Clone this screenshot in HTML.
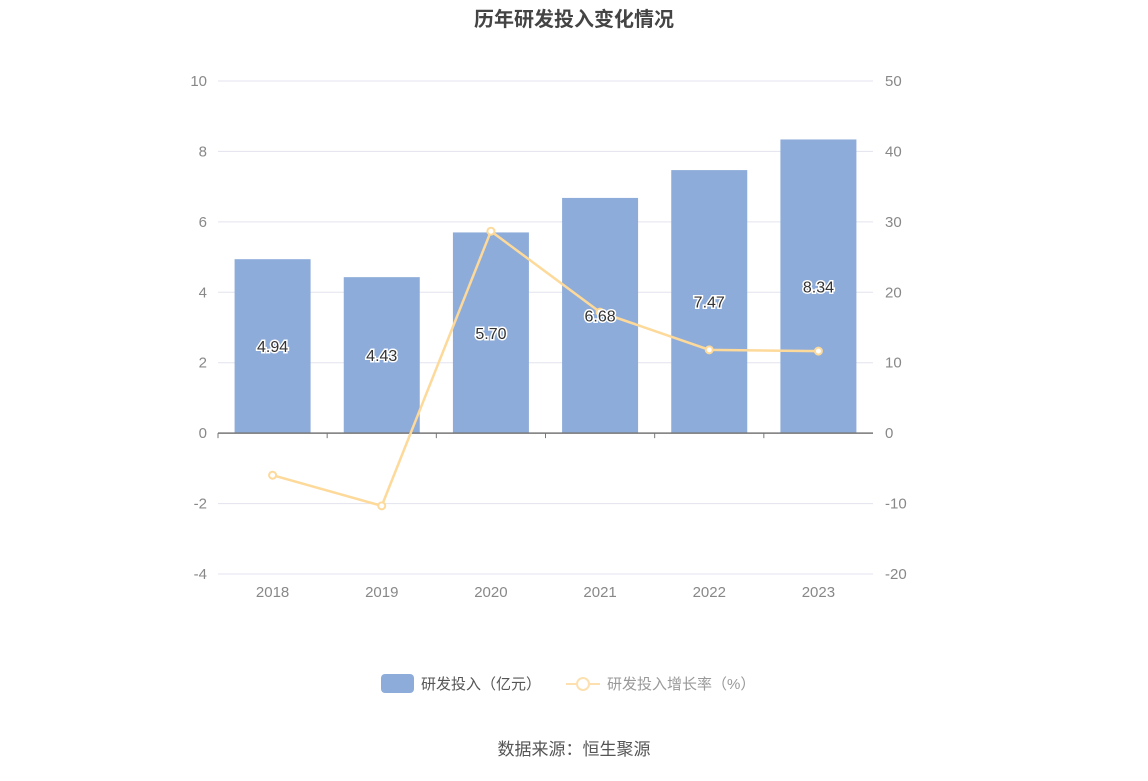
<!DOCTYPE html>
<html><head><meta charset="utf-8"><style>
body{margin:0;background:#fff;width:1148px;height:776px;overflow:hidden;font-family:"Liberation Sans","Noto Sans CJK SC",sans-serif}
</style></head><body>
<svg id="c" width="1148" height="776" xmlns="http://www.w3.org/2000/svg">
<text x="574" y="26" text-anchor="middle" font-size="20" font-weight="bold" fill="#444">历年研发投入变化情况</text>
<g id="grid"></g><g id="bars"></g><g id="axes"></g><g id="line"></g><g id="labels"></g>
<g>
<rect x="381" y="674" width="33" height="19" rx="4" fill="#8eacd9"/>
<text x="421" y="689" font-size="15" fill="#555">研发投入（亿元）</text>
<line x1="566" y1="684" x2="600" y2="684" stroke="#fde0b0" stroke-width="2"/>
<circle cx="583" cy="684" r="6" fill="#fff" stroke="#fde0b0" stroke-width="2"/>
<text x="607" y="689" font-size="15" fill="#999">研发投入增长率（%）</text>
</g>
<text x="574" y="755" text-anchor="middle" font-size="17" fill="#555">数据来源：恒生聚源</text>
</svg>
<script>
const categories=["2018","2019","2020","2021","2022","2023"];
const rdValues=[4.94,4.43,5.70,6.68,7.47,8.34];
const growthValues=[-5.97,-10.32,28.67,17.19,11.83,11.65];
const leftTicks=[-4,-2,0,2,4,6,8,10];
const rightTicks=[-20,-10,0,10,20,30,40,50];
const NS="http://www.w3.org/2000/svg";
const x0=218,x1=873,yTop=81,yBot=574;
const yL=v=>yTop+(10-v)/14*(yBot-yTop);
const yR=v=>yTop+(50-v)/70*(yBot-yTop);
const bw=(x1-x0)/categories.length;
const xC=i=>x0+bw*(i+0.5);
function mk(t,a,p){const e=document.createElementNS(NS,t);for(const k in a)e.setAttribute(k,a[k]);p.appendChild(e);return e;}
const G=document.getElementById('grid'),B=document.getElementById('bars'),A=document.getElementById('axes'),L=document.getElementById('line'),T=document.getElementById('labels');
leftTicks.forEach((v,i)=>{
 const y=yL(v);
 if(v!==0){const g=mk('line',{x1:x0,x2:x1,y1:y,y2:y,stroke:'#e3e3ef','stroke-width':1},G);
 
 }
 const t=mk('text',{x:207,y:y+5,'text-anchor':'end','font-size':15,fill:'#888'},A);t.textContent=v;
 
 
});
rightTicks.forEach(v=>{
 const t=mk('text',{x:885,y:yR(v)+5,'font-size':15,fill:'#888'},A);t.textContent=v;
 
 
});
const ax=mk('line',{x1:x0,x2:x1,y1:yL(0),y2:yL(0),stroke:'#777','stroke-width':1.5},A);


categories.forEach((c,i)=>{
 const cx=xC(i);
 const tk=mk('line',{x1:x0+bw*i,x2:x0+bw*i,y1:yL(0),y2:yL(0)+5,stroke:'#777'},A);
 
 
 const t=mk('text',{x:cx,y:597,'text-anchor':'middle','font-size':15,fill:'#888'},A);t.textContent=c;
 
 
 const v=rdValues[i];
 const r=mk('rect',{x:cx-38,y:yL(v),width:76,height:yL(0)-yL(v),fill:'#8eacd9'},B);
 
 
 const lb=mk('text',{x:cx,y:(yL(v)+yL(0))/2+6,'text-anchor':'middle','font-size':16,fill:'#333',stroke:'#fff','stroke-width':3,'paint-order':'stroke'},T);lb.textContent=v.toFixed(2);
 
 
});
const pts=growthValues.map((v,i)=>xC(i)+','+yR(v)).join(' ');
const pl=mk('polyline',{points:pts,fill:'none',stroke:'#fdd99a','stroke-width':2.5},L);


growthValues.forEach((v,i)=>{
 const c=mk('circle',{cx:xC(i),cy:yR(v),r:3.5,fill:'#fff',stroke:'#fdd99a','stroke-width':2},L);
 
 
});
</script>
</body></html>
